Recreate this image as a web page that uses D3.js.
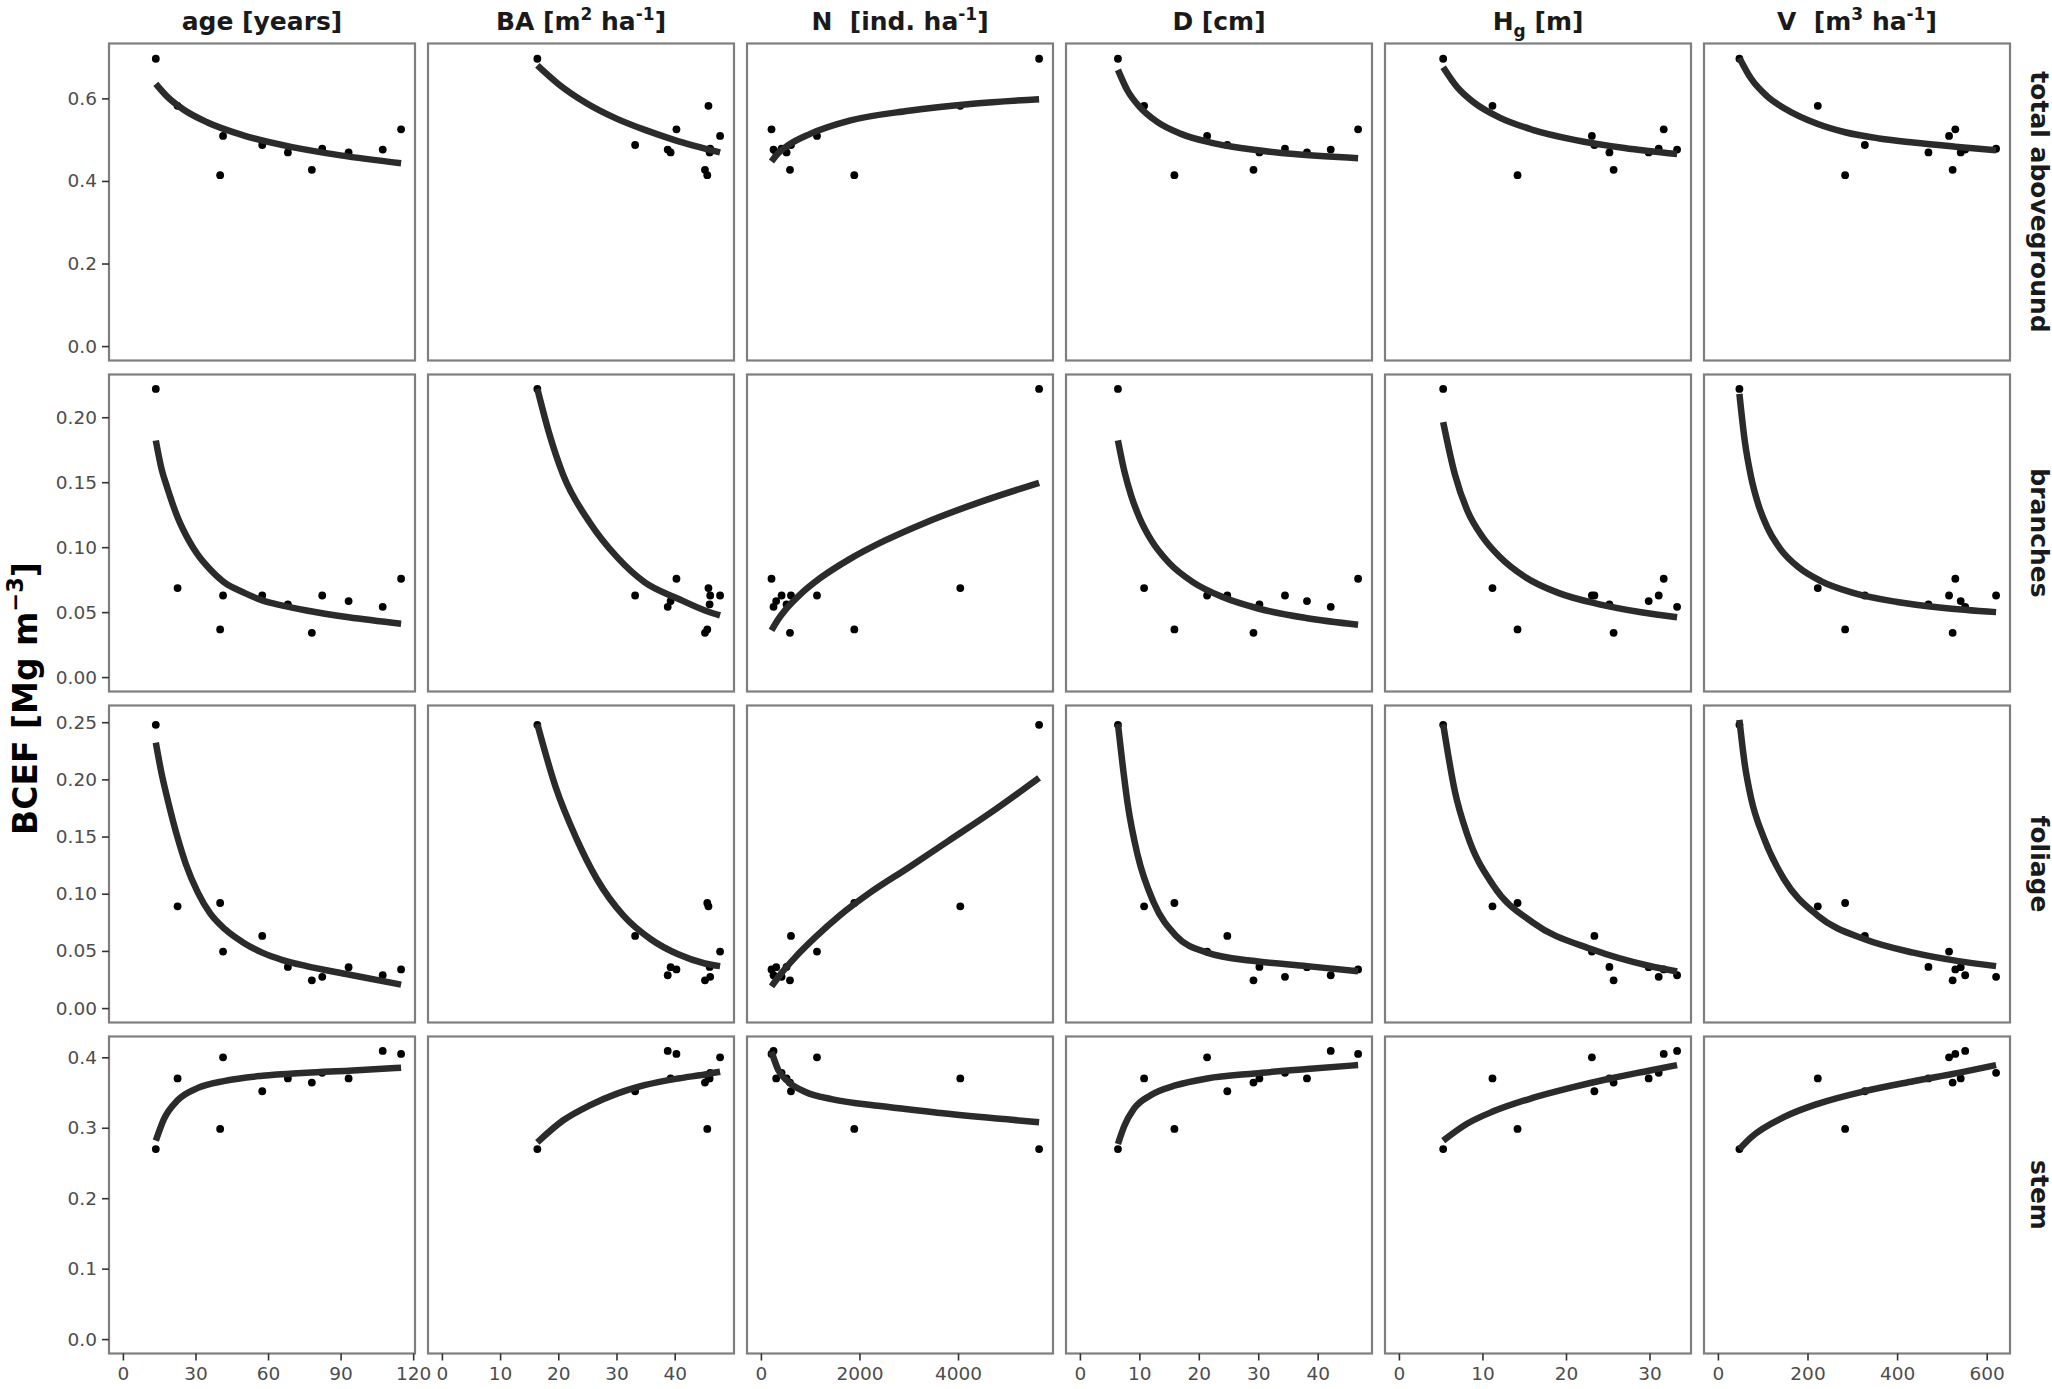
<!DOCTYPE html>
<html><head><meta charset="utf-8">
<script src="https://cdn.jsdelivr.net/npm/d3@7"></script>
<style>html,body{margin:0;padding:0;background:#fff;}svg{display:block;}</style>
</head><body>
<svg id="chart" width="2052" height="1389"></svg>
<script>
// ---------- stand-level data (one entry per stand) ----------
const standAge = [13.6, 22.6, 40.2, 41.4, 57.6, 68.2, 78.1, 82.4, 93.3, 107.4, 115];
const standBA  = [16.4, 45.8, 45.6, 47.8, 33.2, 46.0, 45.2, 46.1, 39.3, 38.8, 40.3];
const standN   = [5645, 4046, 1895, 1138, 610, 520, 590, 420, 310, 256, 215];
const standD   = [6.4, 10.8, 15.9, 21.4, 24.8, 30.2, 29.2, 34.5, 38.2, 42.2, 46.8];
const standHg  = [5.3, 11.2, 14.2, 23.1, 23.4, 25.2, 25.7, 31.1, 29.9, 33.3, 31.7];
const standV   = [48, 223, 284, 516, 328, 470, 524, 621, 542, 552, 530];

const bcefTotal    = [0.696, 0.582, 0.414, 0.509, 0.487, 0.469, 0.427, 0.478, 0.469, 0.476, 0.525];
const bcefBranches = [0.2218, 0.0685, 0.0367, 0.0628, 0.0628, 0.056, 0.0341, 0.0628, 0.0585, 0.0541, 0.0757];
const bcefFoliage  = [0.2477, 0.089, 0.0919, 0.0494, 0.0631, 0.036, 0.0243, 0.0273, 0.0358, 0.0287, 0.0338];
const bcefStem     = [0.2697, 0.370, 0.2983, 0.400, 0.3518, 0.370, 0.3642, 0.378, 0.370, 0.4091, 0.4048];

// ---------- fitted curves: [x, BCEF] per column ----------
const fitTotal = [
  [[13.6,.635],[18,.606],[25,.573],[35,.5415],[50,.51],[70,.482],[90,.462],[115,.443]],
  [[16.4,.680],[20,.635],[25,.587],[30,.551],[35,.523],[40,.499],[47.8,.469]],
  [[215,.447],[350,.467],[560,.487],[1000,.514],[1800,.546],[3000,.570],[4300,.587],[5645,.598]],
  [[6.4,.669],[8,.619],[10,.580],[13,.543],[17,.514],[22,.493],[28,.478],[36,.465],[46.8,.455]],
  [[5.3,.6755],[7,.6265],[9,.5896],[12,.554],[16,.5239],[21,.4996],[27,.4798],[33.3,.465]],
  [[48,.698],[74,.648],[110,.605],[150,.575],[223,.538],[284,.518],[360,.503],[436,.493],[530,.483],[621,.4745]]
];
const fitBranches = [
  [[13.6,.1821],[16,.160],[18.3,.146],[22.6,.123],[27,.106],[31,.094],[36,.083],[42.2,.0725],[50,.065],[57.6,.059],[66,.055],[75.9,.0512],[93.3,.046],[115,.0411]],
  [[16.4,.2218],[18.5,.1865],[20.8,.156],[25.4,.119],[30.1,.0923],[34.8,.0731],[40.6,.0603],[45.2,.0513],[47.8,.0475]],
  [[215,.0359],[350,.0444],[500,.0519],[800,.0637],[1200,.0761],[1800,.0908],[2500,.1048],[3300,.1183],[4400,.1341],[5645,.1495]],
  [[6.4,.1821],[7.5,.158],[8.6,.140],[10,.1229],[12,.1054],[15,.0879],[19,.0731],[24,.0616],[30,.0528],[38,.0455],[46.8,.0403]],
  [[5.3,.1962],[6.7,.156],[8.2,.128],[10,.108],[12,.093],[15,.0775],[19,.065],[24,.056],[29,.0499],[33.3,.046]],
  [[48,.218],[60,.1816],[74,.154],[90,.133],[110,.1154],[140,.0983],[180,.0845],[230,.0739],[300,.065],[400,.0578],[500,.0534],[621,.05]]
];
const fitFoliage = [
  [[13.6,.2321],[16,.205],[18.3,.184],[22.6,.149],[26,.126],[31,.101],[36,.083],[42.2,.069],[50,.057],[57.6,.0485],[66,.042],[75.9,.0367],[93.3,.0294],[115,.0205]],
  [[16.4,.2483],[19.6,.1924],[23.1,.1484],[26.6,.1131],[31.2,.0808],[35.9,.0602],[40.6,.047],[45.2,.039],[47.8,.0367]],
  [[215,.019],[400,.0297],[700,.0446],[1100,.0618],[1600,.081],[2200,.1005],[3000,.123],[3800,.146],[4700,.172],[5645,.2013]],
  [[6.4,.2483],[7.2,.212],[8.05,.178],[9.7,.134],[12.4,.0925],[16.2,.0631],[21.4,.0485],[29.4,.0411],[38.2,.0367],[46.8,.0323]],
  [[5.3,.2483],[6.7,.1895],[8.2,.1513],[11.3,.1072],[16,.0749],[23.1,.0514],[29.9,.037],[33.3,.032]],
  [[48,.252],[60,.213],[74,.1836],[103,.1484],[147,.1131],[223,.0808],[328,.0602],[436,.0485],[537,.0411],[621,.0367]]
];
const fitStem = [
  [[13.6,.2817],[17,.3127],[22.6,.339],[31,.3566],[42.2,.3666],[57.6,.3738],[75.9,.3781],[93.3,.381],[115,.3852]],
  [[16.4,.2793],[20.8,.3103],[25.4,.3318],[30.1,.3485],[34.8,.3604],[40.6,.37],[45.2,.3757],[47.8,.3795]],
  [[215,.4081],[353,.3819],[558,.3652],[903,.3508],[1455,.3404],[2421,.3308],[3798,.3198],[5645,.3079]],
  [[6.4,.2769],[7.5,.3031],[9.1,.327],[11.9,.3461],[16.2,.3604],[21.4,.37],[29.4,.3771],[38.2,.3833],[46.8,.389]],
  [[5.3,.2817],[8.2,.306],[11.3,.3233],[16,.3424],[20.6,.357],[25.3,.37],[29.9,.381],[33.3,.389]],
  [[48,.2697],[74,.2864],[147,.315],[223,.334],[328,.352],[436,.366],[537,.378],[621,.389]]
];

// ---------- labels and ticks ----------
const colHeaders = [
  [["age [years]",""]],
  [["BA [m",""],["2","sup"],[" ha",""],["-1","sup"],["]",""]],
  [["N\u00A0\u00A0[ind. ha",""],["-1","sup"],["]",""]],
  [["D [cm]",""]],
  [["H",""],["g","sub"],[" [m]",""]],
  [["V\u00A0\u00A0[m",""],["3","sup"],[" ha",""],["-1","sup"],["]",""]]
];
const rowLabels = ["total aboveground", "branches", "foliage", "stem"];
const yTitle = [["BCEF [Mg m",""],["\u22123","sup"],["]",""]];
const xTicks = [[0,30,60,90,120],[0,10,20,30,40],[0,2000,4000],[0,10,20,30,40],[0,10,20,30],[0,200,400,600]];
const yTicks = [[0,0.2,0.4,0.6],[0,0.05,0.10,0.15,0.20],[0,0.05,0.10,0.15,0.20,0.25],[0,0.1,0.2,0.3,0.4]];
const yTickFormats = [".1f", ".2f", ".2f", ".1f"];

// ---------- assembly ----------
const colData = [standAge, standBA, standN, standD, standHg, standV];
const rowData = [bcefTotal, bcefBranches, bcefFoliage, bcefStem];
const rowFits = [fitTotal, fitBranches, fitFoliage, fitStem];

const FONT = "'DejaVu Sans', Verdana, sans-serif";
const L = {left:109, pw:306, cstep:319, top:43.5, ph:317, rstep:331};
const svg = d3.select("#chart");
svg.append("rect").attr("width",2052).attr("height",1389).attr("fill","#fff");

function expand(lo, hi){ const r = hi - lo; return [lo - 0.05*r, hi + 0.05*r]; }

const xScales = colData.map((vals, c) => {
  let mx = d3.max(vals);
  rowFits.forEach(f => { mx = Math.max(mx, d3.max(f[c], d => d[0])); });
  const x0 = L.left + c*L.cstep;
  return d3.scaleLinear().domain(expand(0, mx)).range([x0, x0 + L.pw]);
});
const yScales = rowData.map((vals, r) => {
  let mx = d3.max(vals);
  rowFits[r].forEach(f => { mx = Math.max(mx, d3.max(f, d => d[1])); });
  const y0 = L.top + r*L.rstep;
  return d3.scaleLinear().domain(expand(0, mx)).range([y0 + L.ph, y0]);
});

function richText(sel, segs, size){
  let shift = 0;
  segs.forEach(([t, kind]) => {
    const ts = sel.append("tspan").text(t);
    let target = 0, fs = size;
    if (kind === "sup"){ target = -0.42*size; fs = 0.68*size; }
    if (kind === "sub"){ target = 0.28*size; fs = 0.68*size; }
    ts.attr("dy", target - shift).attr("font-size", fs);
    shift = target;
  });
}

rowData.forEach((yv, r) => {
  const ys = yScales[r];
  colData.forEach((xv, c) => {
    const xs = xScales[c];
    const g = svg.append("g");
    g.selectAll("circle").data(d3.range(xv.length)).join("circle")
      .attr("cx", i => xs(xv[i])).attr("cy", i => ys(yv[i])).attr("r", 3.9)
      .attr("fill", "#000");
    const line = d3.line().x(d => xs(d[0])).y(d => ys(d[1])).curve(d3.curveMonotoneX);
    g.append("path").datum(rowFits[r][c]).attr("d", line)
      .attr("fill","none").attr("stroke","#2b2b2b").attr("stroke-width",6.5)
      .attr("stroke-linecap","butt").attr("stroke-linejoin","round");
    g.append("rect").attr("x", xs.range()[0]).attr("y", ys.range()[1])
      .attr("width", L.pw).attr("height", L.ph)
      .attr("fill","none").attr("stroke","#7f7f7f").attr("stroke-width",2.2);
  });
});

function styleAxis(g){
  g.select(".domain").remove();
  g.selectAll(".tick line").attr("stroke","#333").attr("stroke-width",1.6);
  g.selectAll(".tick text").attr("fill","#4d4d4d").attr("font-family",FONT).attr("font-size",18.5);
}

yScales.forEach((ys, r) => {
  const g = svg.append("g").attr("transform", `translate(${L.left},0)`)
    .call(d3.axisLeft(ys).tickValues(yTicks[r]).tickFormat(d3.format(yTickFormats[r])).tickSize(7).tickPadding(5));
  styleAxis(g);
});
const bottomY = L.top + 3*L.rstep + L.ph;
xScales.forEach((xs, c) => {
  const g = svg.append("g").attr("transform", `translate(0,${bottomY})`)
    .call(d3.axisBottom(xs).tickValues(xTicks[c]).tickFormat(d3.format("d")).tickSize(7).tickPadding(6));
  styleAxis(g);
});

xScales.forEach((xs, c) => {
  const t = svg.append("text").attr("x", (xs.range()[0]+xs.range()[1])/2).attr("y", 30)
    .attr("text-anchor","middle").attr("font-family",FONT).attr("font-weight","bold")
    .attr("font-size",25).attr("fill","#1a1a1a");
  richText(t, colHeaders[c], 25);
});
yScales.forEach((ys, r) => {
  const cy = (ys.range()[0] + ys.range()[1]) / 2;
  svg.append("text").attr("transform", `translate(2039,${cy}) rotate(90)`)
    .attr("text-anchor","middle").attr("dominant-baseline","central")
    .attr("font-family",FONT).attr("font-weight","bold").attr("font-size",25)
    .attr("fill","#1a1a1a").text(rowLabels[r]);
});
{
  const cy = (L.top + bottomY) / 2;
  const t = svg.append("text").attr("transform", `translate(37,${cy}) rotate(-90)`)
    .attr("text-anchor","middle")
    .attr("font-family",FONT).attr("font-weight","bold").attr("font-size",33).attr("fill","#000");
  richText(t, yTitle, 33);
}
</script>
</body></html>
